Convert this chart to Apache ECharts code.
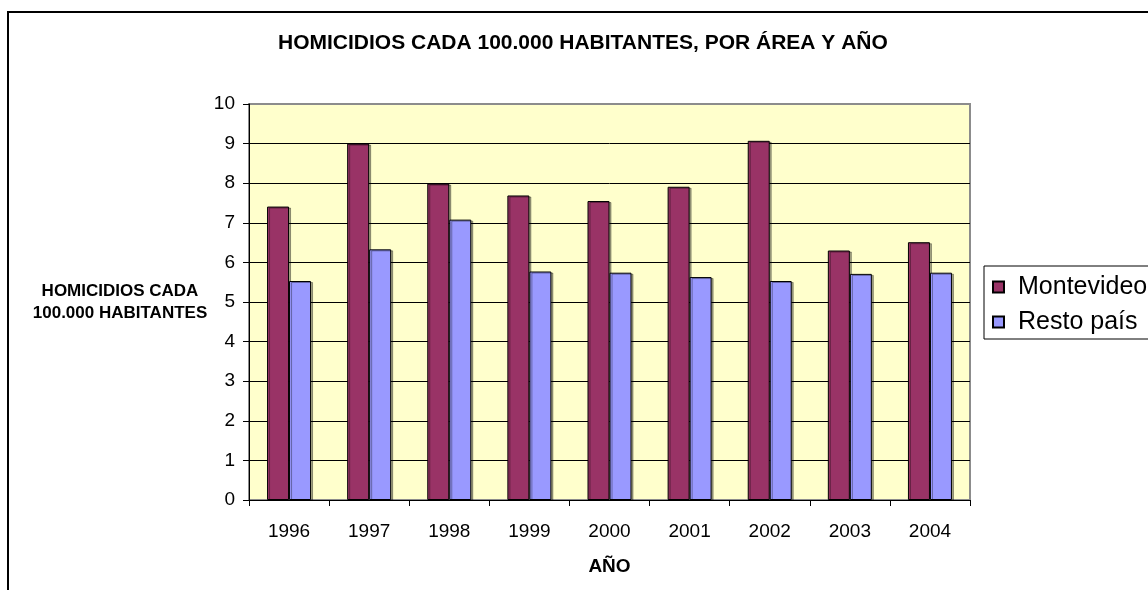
<!DOCTYPE html>
<html>
<head>
<meta charset="utf-8">
<script src="https://cdn.jsdelivr.net/npm/echarts@6/dist/echarts.min.js"></script>
<style>
  html, body { margin: 0; padding: 0; background: #fff; }
  #chart { width: 1148px; height: 590px; }
</style>
</head>
<body>
<div id="chart"></div>
<script>
// data
var years = ['1996', '1997', '1998', '1999', '2000', '2001', '2002', '2003', '2004'];
var montevideo = [7.41, 9.0, 7.99, 7.69, 7.55, 7.91, 9.07, 6.30, 6.51];
var restoPais = [5.53, 6.33, 7.08, 5.77, 5.74, 5.63, 5.53, 5.71, 5.74];
var seriesNames = ['Montevideo', 'Resto país'];

var font = '"Liberation Sans", Arial, sans-serif';

// gridline colours: black inside, grey on the top edge (value 10)
var gridColors = ['#000', '#000', '#000', '#000', '#000', '#000', '#000', '#000', '#000', '#000', '#8c8c8c'];

var chart = echarts.init(document.getElementById('chart'));

var option = {
  backgroundColor: '#fff',
  animation: false,
  textStyle: { fontFamily: font },
  title: {
    text: 'HOMICIDIOS CADA 100.000 HABITANTES, POR ÁREA Y AÑO',
    left: 278,
    top: 33,
    padding: 0,
    textStyle: { fontFamily: font, fontSize: 21, fontWeight: 'bold', color: '#000' }
  },
  graphic: [{
    type: 'rect',
    z: -10,
    shape: { x: 8, y: 12, width: 1300, height: 700 },
    style: { fill: null, stroke: '#000', lineWidth: 2 }
  }],
  legend: {
    orient: 'vertical',
    left: 984,
    top: 266,
    data: seriesNames,
    icon: 'rect',
    itemWidth: 11,
    itemHeight: 11,
    itemGap: 7,
    padding: [7, 40, 3, 8],
    borderColor: '#000',
    borderWidth: 1,
    backgroundColor: '#fff',
    textStyle: { fontFamily: font, fontSize: 25, color: '#000', lineHeight: 28, padding: [0, 0, 0, 9] }
  },
  grid: {
    show: true,
    left: 249,
    right: 178,
    top: 104,
    bottom: 90,
    backgroundColor: '#FFFFCC',
    borderColor: '#8c8c8c',
    borderWidth: 2
  },
  xAxis: {
    type: 'category',
    data: years,
    boundaryGap: true,
    name: 'AÑO',
    nameLocation: 'middle',
    nameGap: 57,
    nameTextStyle: { fontFamily: font, fontSize: 19, fontWeight: 'bold', color: '#000' },
    axisLine: { lineStyle: { color: '#000', width: 1 } },
    axisTick: { show: true, alignWithLabel: false, inside: false, length: 6, lineStyle: { color: '#000' } },
    axisLabel: { fontFamily: font, fontSize: 19, color: '#000', margin: 22 },
    splitLine: { show: false }
  },
  yAxis: {
    type: 'value',
    min: 0,
    max: 10,
    interval: 1,
    name: 'HOMICIDIOS CADA\n100.000 HABITANTES',
    nameLocation: 'middle',
    nameRotate: 0,
    nameGap: 129,
    nameTextStyle: {
      fontFamily: font, fontSize: 17, fontWeight: 'bold', color: '#000',
      align: 'center', verticalAlign: 'middle', lineHeight: 22
    },
    axisLine: { show: true, lineStyle: { color: '#000', width: 1 } },
    axisTick: { show: true, inside: false, length: 6, lineStyle: { color: '#000' } },
    axisLabel: { fontFamily: font, fontSize: 19, color: '#000', margin: 14 },
    splitLine: { show: true, lineStyle: { color: gridColors, width: 1 } }
  },
  series: [
    {
      name: seriesNames[0],
      type: 'bar',
      data: montevideo,
      barWidth: 22,
      barGap: '0%',
      itemStyle: {
        color: '#993366', borderColor: '#000', borderWidth: 1,
        shadowColor: 'rgba(0,0,0,0.35)', shadowOffsetX: 2, shadowOffsetY: 1, shadowBlur: 0
      }
    },
    {
      name: seriesNames[1],
      type: 'bar',
      data: restoPais,
      barWidth: 22,
      barGap: '0%',
      itemStyle: {
        color: '#9999FF', borderColor: '#000', borderWidth: 1,
        shadowColor: 'rgba(0,0,0,0.35)', shadowOffsetX: 2, shadowOffsetY: 1, shadowBlur: 0
      }
    }
  ]
};

chart.setOption(option);
</script>
</body>
</html>
